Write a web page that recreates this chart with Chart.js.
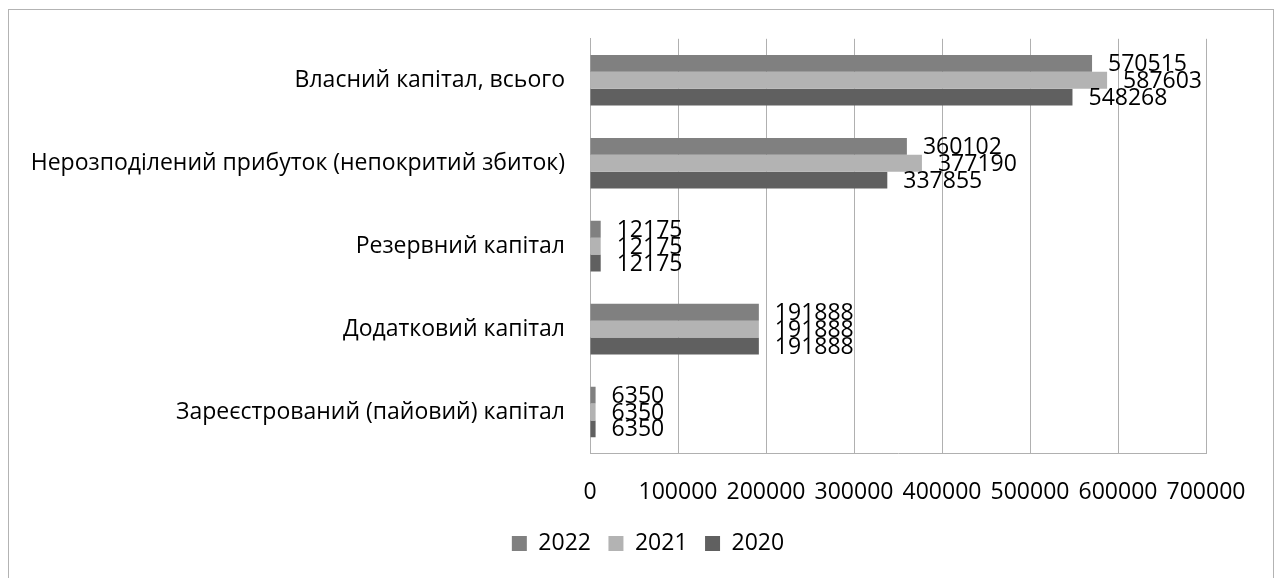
<!DOCTYPE html>
<html lang="uk">
<head>
<meta charset="UTF-8">
<title>Власний капітал</title>
<script src="https://cdn.jsdelivr.net/npm/chart.js@4.4.0/dist/chart.umd.min.js"></script>
<style>
    html, body { margin: 0; padding: 0; background: #fff; }
    #frame { position: absolute; left: 8px; top: 9px; width: 1264px; height: 600px; border: 1px solid #b3b3b3; }
    #wrap { position: absolute; left: 0; top: 0; width: 1277px; height: 578px; }
</style>
</head>
<body>
<div id="frame"></div>
<div id="wrap"><canvas id="capitalChart" width="1277" height="578"></canvas></div>
<script>
    // categories, top to bottom
    var categories = [
        'Власний капітал, всього',
        'Нерозподілений прибуток (непокритий збиток)',
        'Резервний капітал',
        'Додатковий капітал',
        'Зареєстрований (пайовий) капітал'
    ];
    var values2022 = [570515, 360102, 12175, 191888, 6350];
    var values2021 = [587603, 377190, 12175, 191888, 6350];
    var values2020 = [548268, 337855, 12175, 191888, 6350];
    var xTicks = [0, 100000, 200000, 300000, 400000, 500000, 600000, 700000];

    var fontFamily = '"Open Sans", "DejaVu Sans", sans-serif';
    var gridColor = '#b0b0b0';

    // value labels to the right of each bar
    var barLabels = {
        id: 'barLabels',
        beforeDraw: function (chart) {
            // legend in the reference sits a bit right of the plot centre
            var lg = chart.legend;
            lg.left += 45;
            lg.right += 45;
        },
        afterDatasetsDraw: function (chart) {
            var ctx = chart.ctx;
            ctx.save();
            ctx.font = '23px ' + fontFamily;
            ctx.fillStyle = '#000';
            ctx.textAlign = 'left';
            ctx.textBaseline = 'middle';
            chart.data.datasets.forEach(function (ds, i) {
                chart.getDatasetMeta(i).data.forEach(function (bar, j) {
                    ctx.fillText(String(ds.data[j]), bar.x + 16, bar.y + 1);
                });
            });
            ctx.restore();
        }
    };

    var ctx = document.getElementById('capitalChart').getContext('2d');
    new Chart(ctx, {
        type: 'bar',
        data: {
            labels: categories,
            datasets: [
                { label: '2022', data: values2022, backgroundColor: '#808080' },
                { label: '2021', data: values2021, backgroundColor: '#b3b3b3' },
                { label: '2020', data: values2020, backgroundColor: '#606060' }
            ]
        },
        options: {
            indexAxis: 'y',
            responsive: false,
            animation: false,
            barPercentage: 1,
            categoryPercentage: 0.61,
            layout: { padding: { top: 38, right: 71, left: 0, bottom: 13 } },
            scales: {
                x: {
                    min: 0,
                    max: 700000,
                    afterBuildTicks: function (axis) {
                        axis.ticks = xTicks.map(function (v) { return { value: v }; });
                    },
                    afterFit: function (axis) { axis.height = 61; },
                    grid: { color: gridColor, drawTicks: false },
                    border: { color: gridColor },
                    ticks: {
                        padding: 25,
                        color: '#000',
                        font: { family: fontFamily, size: 23 },
                        maxRotation: 0,
                        autoSkip: false,
                        callback: function (v) { return String(v); }
                    }
                },
                y: {
                    afterFit: function (axis) { axis.width = 590; },
                    grid: { display: false, drawTicks: false },
                    border: { color: gridColor },
                    ticks: {
                        padding: 25,
                        color: '#000',
                        font: { family: fontFamily, size: 23 }
                    }
                }
            },
            plugins: {
                legend: {
                    position: 'bottom',
                    labels: {
                        boxWidth: 15,
                        boxHeight: 15,
                        padding: 17.5,
                        color: '#000',
                        font: { family: fontFamily, size: 23 }
                    }
                },
                tooltip: { enabled: false }
            }
        },
        plugins: [barLabels]
    });
</script>
</body>
</html>
